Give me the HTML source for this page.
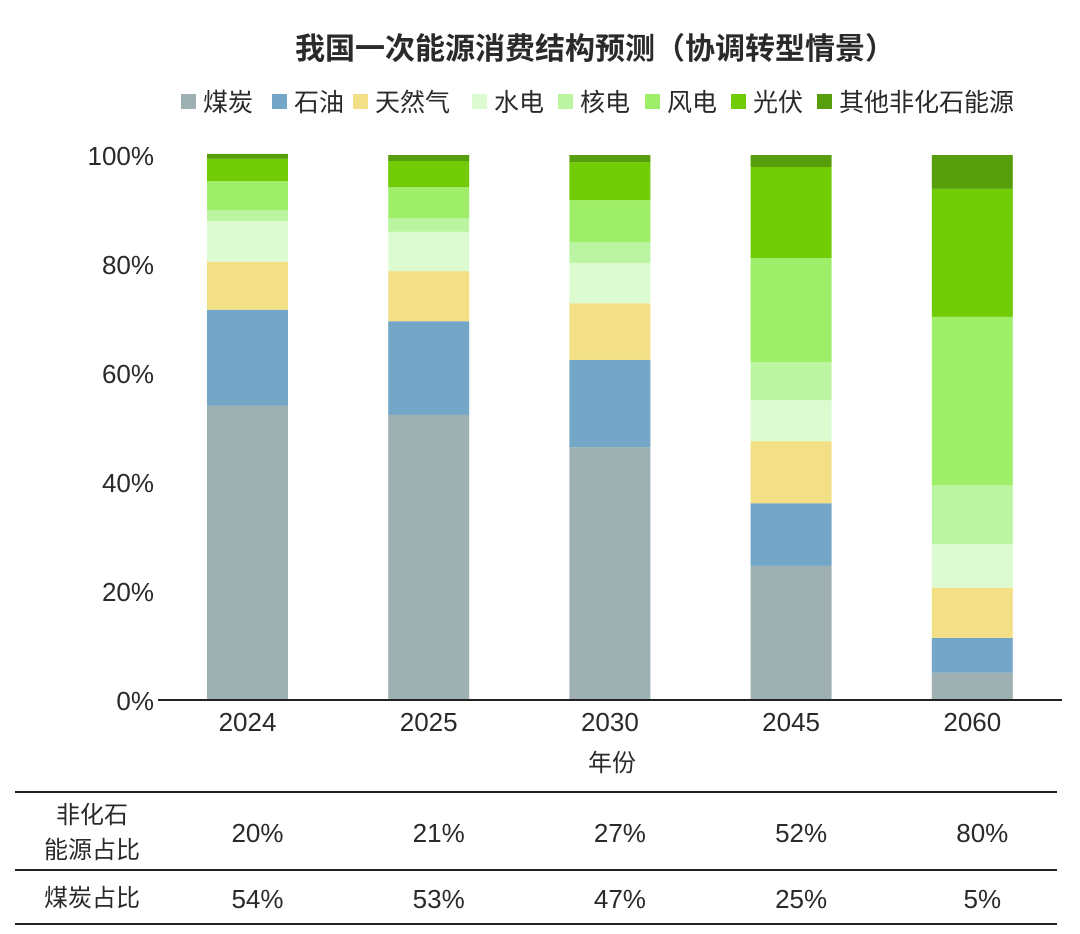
<!DOCTYPE html>
<html><head><meta charset="utf-8"><style>
body{margin:0;background:#fff;}
svg text{font-family:"Liberation Sans","Noto Sans CJK SC",sans-serif;fill:#2a2a2a;}
</style></head><body>
<svg width="1080" height="929" viewBox="0 0 1080 929" xmlns="http://www.w3.org/2000/svg">
<text x="595" y="59" text-anchor="middle" font-size="30" font-weight="bold" style="font-family:'Noto Sans CJK SC',sans-serif">我国一次能源消费结构预测（协调转型情景）</text>
<g id="legend"></g>
<g id="yaxis"></g>
<g id="bars"></g>
<line x1="158" y1="700" x2="1062" y2="700" stroke="#222" stroke-width="2"/>
<g id="xaxis"></g>
<text x="612" y="771" text-anchor="middle" font-size="24">年份</text>
<g>
<line x1="15" y1="792" x2="1057" y2="792" stroke="#222" stroke-width="2"/>
<line x1="15" y1="870" x2="1057" y2="870" stroke="#222" stroke-width="2"/>
<line x1="15" y1="924" x2="1057" y2="924" stroke="#222" stroke-width="2"/>
<text x="92" y="823" text-anchor="middle" font-size="24">非化石</text>
<text x="92" y="858" text-anchor="middle" font-size="24">能源占比</text>
<text x="92" y="906" text-anchor="middle" font-size="24">煤炭占比</text>
<g id="tablevals"></g>
</g>
</svg>
<script>
const years=["2024","2025","2030","2045","2060"];
const seriesNames=["煤炭","石油","天然气","水电","核电","风电","光伏","其他非化石能源"];
const coal=[54,52.3,46.4,24.6,5];
const oil=[17.6,17.2,16,11.5,6.4];
const gas=[8.8,9.2,10.4,11.4,9.2];
const hydro=[7.5,7.2,7.4,7.5,8];
const nuclear=[2,2.5,3.8,7,10.8];
const wind=[5.3,5.7,7.7,19.1,30.9];
const solar=[4.1,4.8,7,16.7,23.5];
const other=[0.9,1.1,1.3,2.2,6.2];
const yTicks=[0,20,40,60,80,100];
const nonFossilShare=["20%","21%","27%","52%","80%"];
const coalShare=["54%","53%","47%","25%","5%"];
const colors=["#9eb0b1","#74a6c8","#f3e086","#dcfbd0","#bbf5a1","#9fee6a","#71cc06","#579e0a"];
const series=[coal,oil,gas,hydro,nuclear,wind,solar,other];
const keys=["coal","oil","gas","hydro","nuclear","wind","solar","other"];
const NS="http://www.w3.org/2000/svg";
const y0=700,y1=155;
const yS=v=>y0-(v/100)*(y0-y1);
const xC=i=>247.5+i*181.2;
const bw=81;
function mk(t,a,p){const e=document.createElementNS(NS,t);for(const k in a)e.setAttribute(k,a[k]);p.appendChild(e);return e;}
const yg=document.getElementById('yaxis');
yTicks.forEach(v=>{const t=mk('text',{x:154,y:yS(v)+10,'text-anchor':'end','font-size':26},yg);t.textContent=v+'%';

});
const bg=document.getElementById('bars');
years.forEach((yr,i)=>{let cum=0;series.forEach((s,j)=>{const a=yS(cum),b=yS(cum+s[i]);cum+=s[i];
const r=mk('rect',{x:xC(i)-bw/2,y:b,width:bw,height:a-b,fill:colors[j]},bg);

});});
const xg=document.getElementById('xaxis');
years.forEach((yr,i)=>{const t=mk('text',{x:xC(i),y:731,'text-anchor':'middle','font-size':26},xg);t.textContent=yr;

});
const tv=document.getElementById('tablevals');
years.forEach((yr,i)=>{const a=mk('text',{x:xC(i)+10,y:842,'text-anchor':'middle','font-size':26},tv);a.textContent=nonFossilShare[i];


const b=mk('text',{x:xC(i)+10,y:908,'text-anchor':'middle','font-size':26},tv);b.textContent=coalShare[i];

});
const lg=document.getElementById('legend');
const lx=[181,272,353,472,558,645,731,817];
seriesNames.forEach((n,j)=>{const r=mk('rect',{x:lx[j],y:94,width:15,height:15,fill:colors[j]},lg);


const t=mk('text',{x:lx[j]+22,y:111,'font-size':25},lg);t.textContent=n;

});
</script>
</body></html>
